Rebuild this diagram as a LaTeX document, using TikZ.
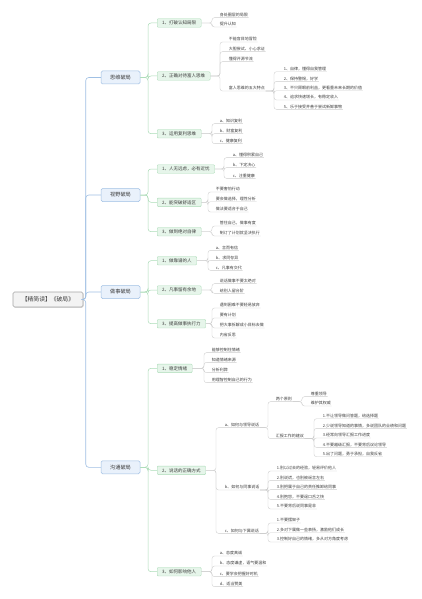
\documentclass[tikz,border=0pt]{standalone}
\usepackage{fontspec}
\newfontfamily\cjk{Noto Sans CJK SC}
\usepackage{xcolor}
\definecolor{rootline}{RGB}{165,165,165}
\definecolor{rootfill}{RGB}{243,243,243}
\definecolor{bluemain}{RGB}{160,192,228}
\definecolor{bluefill}{RGB}{233,241,251}
\definecolor{greenmain}{RGB}{172,220,184}
\definecolor{greenfill}{RGB}{230,245,234}
\definecolor{leafgray}{RGB}{205,205,205}
\definecolor{ink}{RGB}{60,60,60}
\usepackage{tikz}
\usetikzlibrary{shadows}

\tikzset{
  rootbox/.style={draw=rootline, fill=rootfill, line width=0.6pt, rounded corners=1.5pt,
    minimum width=70pt, minimum height=15pt, font=\cjk\fontsize{5.8}{7}\selectfont, text=ink,
    drop shadow={shadow xshift=0.6pt, shadow yshift=-0.8pt, opacity=0.25}},
  mainbox/.style={draw=bluemain, fill=bluefill, line width=0.5pt, rounded corners=1.5pt,
    minimum width=39pt, minimum height=13pt, font=\cjk\fontsize{5.2}{6}\selectfont, text=ink},
  subbox/.style={draw=greenmain, fill=greenfill, line width=0.4pt, rounded corners=1pt, anchor=west,
    inner xsep=5pt, inner ysep=1pt, minimum height=8.5pt, font=\cjk\fontsize{4.5}{5.4}\selectfont, text=ink},
  leaf/.style={anchor=west, inner sep=0.6pt, font=\cjk\fontsize{4}{4.8}\selectfont, text=ink},
  mainline/.style={draw=bluemain, line width=0.6pt, rounded corners=3pt},
  subline/.style={draw=greenmain, line width=0.5pt, rounded corners=3pt},
  leafline/.style={draw=leafgray, line width=0.35pt, rounded corners=2.5pt},
}

\begin{document}
\begin{tikzpicture}[x=1pt, y=-1pt]
    \fill[white] (0,0) rectangle (422,599);
    \useasboundingbox (0,0) rectangle (422,599);

    % Root and main branches
    \node[rootbox] (root) at (48,299.5) {【精简读】《破局》};
    \node[mainbox] (sw) at (120.5,77.5) {思维破局};
    \node[mainbox] (sy) at (120.5,195) {视野破局};
    \node[mainbox] (zs) at (120.5,292) {做事破局};
    \node[mainbox] (gt) at (120.5,467.3) {沟通破局};
    \foreach \m in {sw,sy,zs,gt}
        \draw[mainline] (root.east) -| ([xshift=-15pt]\m.west) -- (\m.west);

    % 思维破局
    \node[subbox] (sw1) at (157,23) {1、打破认知局限};
    \node[subbox] (sw2) at (157,76) {2、正确对待富人思维};
    \node[subbox] (sw3) at (157,133.7) {3、运用复利思维};
    \foreach \s in {sw1,sw2,sw3}
        \draw[subline] (sw.east) -| ([xshift=-9pt]\s.west) -- (\s.west);

    \node[leaf] (sw1a) at (219,15) {身处圈层的局限};
    \node[leaf] (sw1b) at (219,24.3) {提升认知};
    \foreach \c in {sw1a,sw1b}
        \draw[leafline] (sw1.east) -| ([xshift=-7pt]\c.south west) -- (\c.south east);

    \node[leaf] (sw2a) at (228,39.3) {不能盲目地冒险};
    \node[leaf] (sw2b) at (228,49) {大胆尝试、小心求证};
    \node[leaf] (sw2c) at (228,59) {懂得开源节流};
    \node[leaf] (rich) at (228,88.3) {富人思维的五大特点};
    \foreach \c in {sw2a,sw2b,sw2c,rich}
        \draw[leafline] (sw2.east) -| ([xshift=-8pt]\c.south west) -- (\c.south east);

    \node[leaf] (rich1) at (283,69) {1、自律，懂得自我管理};
    \node[leaf] (rich2) at (283,78.7) {2、保持警惕，好学};
    \node[leaf] (rich3) at (283,88) {3、不只顾眼前利益，更看重未来长期的价值};
    \node[leaf] (rich4) at (283,97.3) {4、追求快速增长，有稳定收入};
    \node[leaf] (rich5) at (283,106.7) {5、乐于接受并善于尝试新鲜事物};
    \foreach \c in {rich1,rich2,rich3,rich4,rich5}
        \draw[leafline] (rich.south east) -| ([xshift=-9pt]\c.south west) -- (\c.south east);

    \node[leaf] (sw3a) at (219,121) {a、知识复利};
    \node[leaf] (sw3b) at (219,131) {b、财富复利};
    \node[leaf] (sw3c) at (219,141) {c、健康复利};
    \foreach \c in {sw3a,sw3b,sw3c}
        \draw[leafline] (sw3.east) -| ([xshift=-7pt]\c.south west) -- (\c.south east);

    % 视野破局
    \node[subbox] (sy1) at (157,169) {1、人无远虑，必有近忧};
    \node[subbox] (sy2) at (157,202.3) {2、能突破舒适区};
    \node[subbox] (sy3) at (157,231.7) {3、做到绝对自律};
    \foreach \s in {sy1,sy2,sy3}
        \draw[subline] (sy.east) -| ([xshift=-9pt]\s.west) -- (\s.west);

    \node[leaf] (sy1a) at (232,155) {a、懂得积累自己};
    \node[leaf] (sy1b) at (232,165) {b、下定决心};
    \node[leaf] (sy1c) at (232,175.7) {c、注重健康};
    \foreach \c in {sy1a,sy1b,sy1c}
        \draw[leafline] (sy1.east) -| ([xshift=-8pt]\c.south west) -- (\c.south east);

    \node[leaf] (sy2a) at (215,189.3) {不要害怕行动};
    \node[leaf] (sy2b) at (215,199) {要会做选择，理性分析};
    \node[leaf] (sy2c) at (215,209.3) {做法要适合于自己};
    \foreach \c in {sy2a,sy2b,sy2c}
        \draw[leafline] (sy2.east) -| ([xshift=-7pt]\c.south west) -- (\c.south east);

    \node[leaf] (sy3a) at (219,223.3) {管住自己，做事有度};
    \node[leaf] (sy3b) at (219,233.3) {制订了计划就坚决执行};
    \foreach \c in {sy3a,sy3b}
        \draw[leafline] (sy3.east) -| ([xshift=-7pt]\c.south west) -- (\c.south east);

    % 做事破局
    \node[subbox] (zs1) at (157,260.7) {1、做靠谱的人};
    \node[subbox] (zs2) at (157,290) {2、凡事留有余地};
    \node[subbox] (zs3) at (157,323.7) {3、提高做事执行力};
    \foreach \s in {zs1,zs2,zs3}
        \draw[subline] (zs.east) -| ([xshift=-9pt]\s.west) -- (\s.west);

    \node[leaf] (zs1a) at (215,247.7) {a、言而有信};
    \node[leaf] (zs1b) at (215,257.7) {b、求同存异};
    \node[leaf] (zs1c) at (215,267.7) {c、凡事有交代};
    \foreach \c in {zs1a,zs1b,zs1c}
        \draw[leafline] (zs1.east) -| ([xshift=-7pt]\c.south west) -- (\c.south east);

    \node[leaf] (zs2a) at (219,281) {说话做事不要太绝对};
    \node[leaf] (zs2b) at (219,290.7) {给别人留台阶};
    \foreach \c in {zs2a,zs2b}
        \draw[leafline] (zs2.east) -| ([xshift=-7pt]\c.south west) -- (\c.south east);

    \node[leaf] (zs3a) at (219,305.3) {遇到困难不要轻易放弃};
    \node[leaf] (zs3b) at (219,315.3) {要有计划};
    \node[leaf] (zs3c) at (219,325.3) {把大事拆解成小目标去做};
    \node[leaf] (zs3d) at (219,335.3) {内省反思};
    \foreach \c in {zs3a,zs3b,zs3c,zs3d}
        \draw[leafline] (zs3.east) -| ([xshift=-7pt]\c.south west) -- (\c.south east);

    % 沟通破局
    \node[subbox] (gt1) at (157,368.3) {1、稳定情绪};
    \node[subbox] (gt2) at (157,470.3) {2、说话的正确方式};
    \node[subbox] (gt3) at (157,571.7) {3、如何影响他人};
    \foreach \s in {gt1,gt2,gt3}
        \draw[subline] (gt.east) -| ([xshift=-9pt]\s.west) -- (\s.west);

    \node[leaf] (gt1a) at (211,350) {能够控制住情绪};
    \node[leaf] (gt1b) at (211,359.7) {知道情绪来源};
    \node[leaf] (gt1c) at (211,370) {分析利弊};
    \node[leaf] (gt1d) at (211,380) {用理智控制自己的行为};
    \foreach \c in {gt1a,gt1b,gt1c,gt1d}
        \draw[leafline] (gt1.east) -| ([xshift=-7pt]\c.south west) -- (\c.south east);

    \node[leaf] (gt2a) at (224,425) {a、如何与领导说话};
    \node[leaf] (gt2b) at (224,487.3) {b、如何与同事说话};
    \node[leaf] (gt2c) at (224,530.7) {c、如何与下属说话};
    \foreach \c in {gt2a,gt2b,gt2c}
        \draw[leafline] (gt2.east) -| ([xshift=-8pt]\c.south west) -- (\c.south east);

    \node[leaf] (lda) at (275,399) {两个原则};
    \node[leaf] (ldb) at (275,436) {汇报工作的建议};
    \foreach \c in {lda,ldb}
        \draw[leafline] (gt2a.south east) -| ([xshift=-7pt]\c.south west) -- (\c.south east);

    \node[leaf] (lda1) at (310,394) {尊重领导};
    \node[leaf] (lda2) at (310,403.3) {维护其权威};
    \foreach \c in {lda1,lda2}
        \draw[leafline] (lda.south east) -| ([xshift=-8pt]\c.south west) -- (\c.south east);

    \node[leaf] (ldb1) at (322,416) {1.不让领导做问答题，给选择题};
    \node[leaf] (ldb2) at (322,425.7) {2.少说领导知道的事情，多说团队的业绩和问题};
    \node[leaf] (ldb3) at (322,435.3) {3.经常向领导汇报工作进度};
    \node[leaf] (ldb4) at (322,444.7) {4.不要越级汇报，不要背后议论领导};
    \node[leaf] (ldb5) at (322,454) {5.出了问题，勇于承担，自我反省};
    \foreach \c in {ldb1,ldb2,ldb3,ldb4,ldb5}
        \draw[leafline] (ldb.south east) -| ([xshift=-8pt]\c.south west) -- (\c.south east);

    \node[leaf] (tsa) at (276,468.3) {1.别以过去的经验，轻易评价他人};
    \node[leaf] (tsb) at (276,477.7) {2.别说谎，也别被谣言左右};
    \node[leaf] (tsc) at (276,487) {3.别把属于自己的责任推卸给同事};
    \node[leaf] (tsd) at (276,496.7) {4.别抱怨，不要逞口舌之快};
    \node[leaf] (tse) at (276,506.3) {5.不要背后说同事是非};
    \foreach \c in {tsa,tsb,tsc,tsd,tse}
        \draw[leafline] (gt2b.south east) -| ([xshift=-8pt]\c.south west) -- (\c.south east);

    \node[leaf] (xsa) at (276,520.3) {1.不要摆架子};
    \node[leaf] (xsb) at (276,530) {2.多对下属做一些表扬，激励他们成长};
    \node[leaf] (xsc) at (276,539.3) {3.控制好自己的情绪，多从对方角度考虑};
    \foreach \c in {xsa,xsb,xsc}
        \draw[leafline] (gt2c.south east) -| ([xshift=-8pt]\c.south west) -- (\c.south east);

    \node[leaf] (gt3a) at (219,553.3) {a、态度真诚};
    \node[leaf] (gt3b) at (219,563.3) {b、态度谦虚，语气要温和};
    \node[leaf] (gt3c) at (219,574) {c、要学会把握好时机};
    \node[leaf] (gt3d) at (219,584) {d、适当赞美};
    \foreach \c in {gt3a,gt3b,gt3c,gt3d}
        \draw[leafline] (gt3.east) -| ([xshift=-7pt]\c.south west) -- (\c.south east);
\end{tikzpicture}
\end{document}
